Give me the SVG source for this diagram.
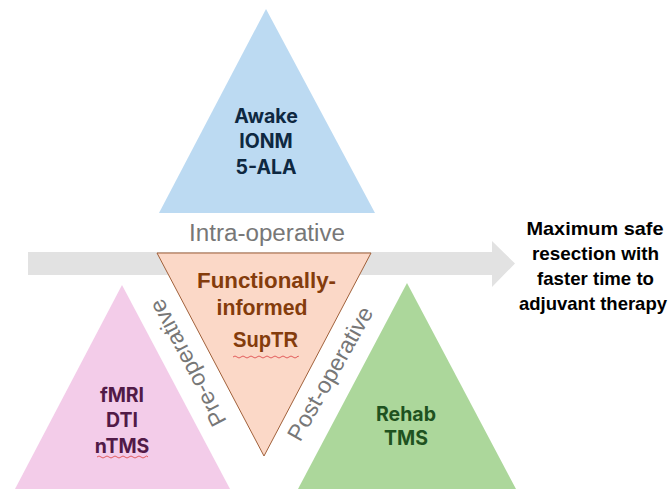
<svg xmlns="http://www.w3.org/2000/svg" width="672" height="490" viewBox="0 0 672 490">
  <defs>
    <style>
      .tri-text { font-family: Inter, "Noto Sans", "Liberation Sans", sans-serif; font-weight: 700; font-size: 19.5px; text-anchor: middle; }
      .label { font-family: "Liberation Sans", Arial, sans-serif; font-size: 23px; fill: #777777; text-anchor: middle; }
      .center-text { font-family: "Liberation Sans", Arial, sans-serif; font-weight: 700; font-size: 22px; fill: #843c0c; text-anchor: middle; }
      .outcome { font-family: "Liberation Sans", Arial, sans-serif; font-weight: 700; font-size: 18.5px; fill: #000000; text-anchor: middle; }
      .squiggle { fill: none; stroke: #e05050; stroke-width: 0.9; }
    </style>
  </defs>
  <rect width="672" height="490" fill="#ffffff"/>

  <g id="connectors">
    <path id="timeline-arrow" d="M28,252 L492,252 L492,241 L515,263.5 L492,287 L492,275 L28,275 Z" fill="#e2e2e2"/>
  </g>

  <g id="intra-operative">
    <polygon points="266,9 159,213 375,213" fill="#bcdaf2"/>
    <text class="tri-text" fill="#0e2841" x="266" y="123">Awake</text>
    <text class="tri-text" fill="#0e2841" x="266" y="148">IONM</text>
    <text class="tri-text" fill="#0e2841" x="266" y="174">5-ALA</text>
  </g>

  <g id="pre-operative">
    <polygon points="122,285 15,489 230,489" fill="#f3cce9"/>
    <text class="tri-text" fill="#511a47" x="122" y="402">fMRI</text>
    <text class="tri-text" fill="#511a47" x="122" y="427">DTI</text>
    <text class="tri-text" fill="#511a47" x="122" y="453">nTMS</text>
    <path class="squiggle" d="M97,457 q2,-2 4,0 t4,0 t4,0 t4,0 t4,0 t4,0 t4,0 t4,0 t4,0 t4,0 t4,0 t4,0 t3,0"/>
  </g>

  <g id="post-operative">
    <polygon points="407,283 298,489 516,489" fill="#acd79b"/>
    <text class="tri-text" fill="#1f5220" x="406" y="421">Rehab</text>
    <text class="tri-text" fill="#1f5220" x="406" y="445">TMS</text>
  </g>

  <g id="supTR">
    <polygon points="157,253 371,253 264,456" fill="#fbd8c7" stroke="#a0603a" stroke-width="1"/>
    <text class="center-text" x="266.5" y="288" textLength="139" lengthAdjust="spacingAndGlyphs">Functionally-</text>
    <text class="center-text" x="262" y="315" textLength="91" lengthAdjust="spacingAndGlyphs">informed</text>
    <text class="center-text" x="265.5" y="347" textLength="65" lengthAdjust="spacingAndGlyphs">SupTR</text>
    <path class="squiggle" d="M233,357 q2,-2 4,0 t4,0 t4,0 t4,0 t4,0 t4,0 t4,0 t4,0 t4,0 t4,0 t4,0 t4,0 t4,0 t4,0 t4,0 t4,0 t1,0"/>
  </g>

  <g id="phase-labels">
    <text class="label" x="267" y="241" textLength="156" lengthAdjust="spacingAndGlyphs">Intra-operative</text>
    <text class="label" x="0" y="0" dy="0.35em" transform="translate(187.5,363) rotate(-117.5)" textLength="140" lengthAdjust="spacingAndGlyphs">Pre-operative</text>
    <text class="label" x="0" y="0" dy="0.35em" transform="translate(330,373.5) rotate(-60.5)" textLength="150" lengthAdjust="spacingAndGlyphs">Post-operative</text>
  </g>

  <g id="outcome">
    <text class="outcome" x="595" y="235" textLength="137" lengthAdjust="spacingAndGlyphs">Maximum safe</text>
    <text class="outcome" x="595.5" y="260" textLength="127" lengthAdjust="spacingAndGlyphs">resection with</text>
    <text class="outcome" x="595.5" y="285" textLength="117" lengthAdjust="spacingAndGlyphs">faster time to</text>
    <text class="outcome" x="593" y="310" textLength="148" lengthAdjust="spacingAndGlyphs">adjuvant therapy</text>
  </g>
</svg>
